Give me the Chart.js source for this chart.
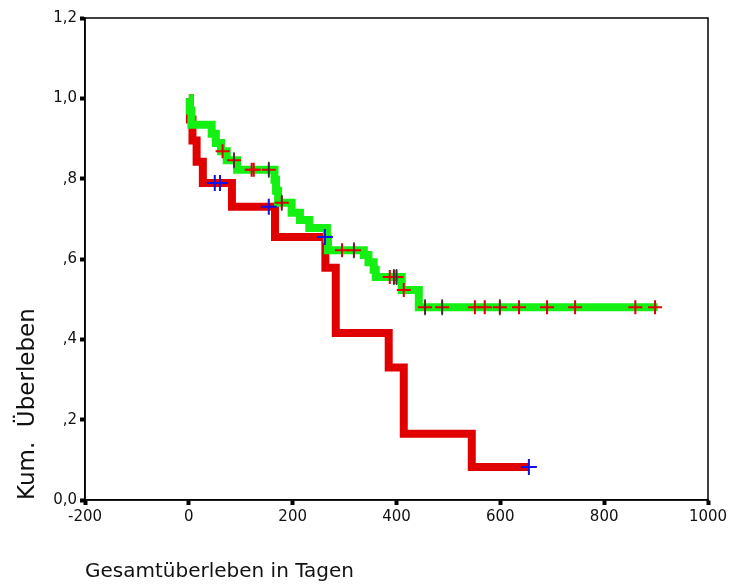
<!DOCTYPE html>
<html>
<head>
<meta charset="utf-8">
<script src="https://cdn.jsdelivr.net/npm/chart.js@4/dist/chart.umd.min.js"></script>
<style>
  html,body{margin:0;padding:0;background:#fff;}
  #wrap{width:733px;height:585px;}
</style>
</head>
<body>
<div id="wrap"><canvas id="km" width="733" height="585"></canvas></div>
<script>
// ===== Kaplan-Meier, Gruppe rot =====
const redDays = [0, 2, 7, 15, 27, 83, 166, 263, 283, 385, 414, 545, 655];
const redSurv = [1.0, 0.947, 0.895, 0.842, 0.789, 0.73, 0.655, 0.578, 0.416, 0.33, 0.165, 0.082, 0.082];

// ===== Kaplan-Meier, Gruppe gruen =====
const greenDays = [0, 2, 5, 44, 52, 62, 73, 93, 165, 168, 172, 198, 214, 232, 266, 268, 337, 346, 356, 360, 410, 443, 903];
const greenSurv = [1.0, 0.97, 0.934, 0.912, 0.889, 0.868, 0.846, 0.822, 0.797, 0.77, 0.74, 0.715, 0.697, 0.677, 0.65, 0.622, 0.61, 0.592, 0.573, 0.555, 0.523, 0.48, 0.48];

// ===== zensierte Faelle =====
const redCensDays = [50, 60, 154, 262, 655];
const redCensSurv = [0.789, 0.789, 0.73, 0.655, 0.082];

const greenCensDays = [65, 87, 121, 125, 154, 179, 295, 318, 387, 395, 400, 414, 455, 488, 551, 570, 599, 636, 690, 744, 860, 898];
const greenCensSurv = [0.868, 0.846, 0.822, 0.822, 0.822, 0.74, 0.622, 0.622, 0.555, 0.555, 0.555, 0.523, 0.48, 0.48, 0.48, 0.48, 0.48, 0.48, 0.48, 0.48, 0.48, 0.48];

const darkDays = [87, 154, 179, 318, 395, 400, 455, 488, 599];
const darkSurv = [0.846, 0.822, 0.74, 0.622, 0.555, 0.555, 0.48, 0.48, 0.48];

const xTitle = "Gesamtüberleben in Tagen";
const yTitle = "Kum.  Überleben";

const pts = (xs, ys) => xs.map((x, i) => ({x, y: ys[i]}));

// Rahmen um die Grafik
const frame = {
  id: "frame",
  afterDraw(c){
    const {ctx, chartArea: a} = c;
    ctx.save();
    ctx.strokeStyle = "#000";
    ctx.lineWidth = 1.5;
    ctx.strokeRect(a.left, a.top, a.right - a.left, a.bottom - a.top);
    ctx.restore();
  }
};

// SPSS-Stil: 1,2  1,0  ,8  ,6 ... 0,0
const fmtY = v => {
  const s = Number(v).toFixed(1).replace(".", ",");
  return (s.startsWith("0,") && s !== "0,0") ? s.slice(1) : s;
};

const tickFont = {family: "DejaVu Sans", size: 15};

new Chart(document.getElementById("km"), {
  type: "line",
  data: {
    datasets: [
      { type: "scatter", data: pts(darkDays, darkSurv), pointStyle: "line", rotation: 90,
        radius: 8, borderColor: "#333", borderWidth: 1.5, order: 0 },
      { type: "scatter", data: pts(greenCensDays, greenCensSurv), pointStyle: "cross",
        radius: 7, borderColor: "#e00000", borderWidth: 2, order: 1 },
      { type: "scatter", data: pts(redCensDays, redCensSurv), pointStyle: "cross",
        radius: 8, borderColor: "#1010e8", borderWidth: 2, order: 1 },
      { data: pts(greenDays, greenSurv), stepped: "before", borderColor: "#14f014",
        borderWidth: 8, pointRadius: 0, fill: false, borderJoinStyle: "miter", borderCapStyle: "butt", order: 2 },
      { data: pts(redDays, redSurv), stepped: "before", borderColor: "#e00000",
        borderWidth: 8, pointRadius: 0, fill: false, borderJoinStyle: "miter", borderCapStyle: "butt", order: 3 }
    ]
  },
  options: {
    responsive: false,
    animation: false,
    layout: { padding: { top: 18, right: 25, left: 0, bottom: 0 } },
    plugins: { legend: { display: false }, tooltip: { enabled: false } },
    scales: {
      x: {
        type: "linear", min: -200, max: 1000,
        ticks: { stepSize: 200, color: "#111", font: tickFont, padding: 3, maxRotation: 0,
                 callback: v => String(v) },
        grid: { drawOnChartArea: false, drawTicks: true, tickLength: 5, tickWidth: 4, tickColor: "#000" },
        border: { color: "#000", width: 1.5 },
        title: { display: true, text: xTitle, align: "start", color: "#111",
                 font: { family: "DejaVu Sans", size: 20 }, padding: { top: 0, bottom: 1 } },
        afterFit(s){ s.height = 85; }
      },
      y: {
        min: 0, max: 1.2,
        ticks: { stepSize: 0.2, color: "#111", font: tickFont, padding: 3, callback: v => fmtY(v) },
        grid: { drawOnChartArea: false, drawTicks: true, tickLength: 5, tickWidth: 4, tickColor: "#000" },
        border: { color: "#000", width: 1.5 },
        title: { display: true, text: yTitle, align: "start", color: "#111",
                 font: { family: "DejaVu Sans", size: 23 }, padding: { top: 14, bottom: 0 } },
        afterFit(s){ s.width = 85; }
      }
    }
  },
  plugins: [frame]
});
</script>
</body>
</html>
